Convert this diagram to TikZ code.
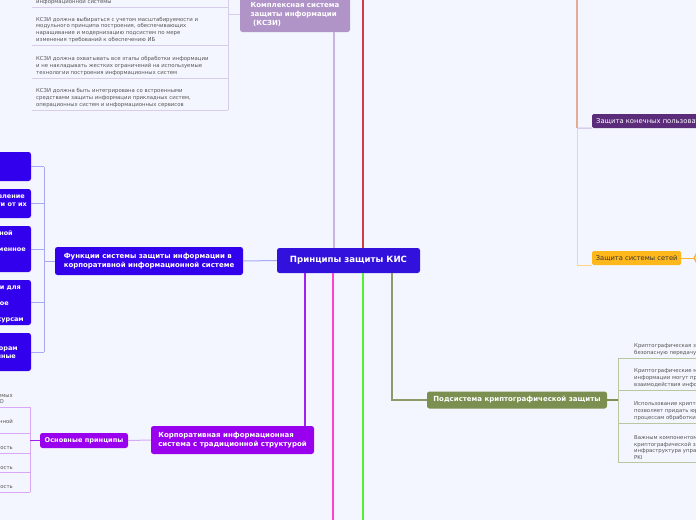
\documentclass[tikz,border=0pt]{standalone}
\usepackage{fontspec}
\setmainfont{DejaVu Sans}
\definecolor{bg}{HTML}{F3F6FE}
\definecolor{kisblue}{HTML}{3311DD}
\definecolor{funkblue}{HTML}{3300EE}
\definecolor{kszpurple}{HTML}{B094C8}
\definecolor{corpviolet}{HTML}{9900EE}
\definecolor{cryptgreen}{HTML}{7A8F50}
\definecolor{konpurple}{HTML}{5B2C7A}
\definecolor{netorange}{HTML}{FFB81C}
\definecolor{nettext}{HTML}{333333}
\definecolor{leaftext}{HTML}{555555}
\definecolor{lavline}{HTML}{A8A8F4}
\definecolor{kszline}{HTML}{C8B4DC}
\definecolor{kszbr}{HTML}{D8CCEA}
\definecolor{redline}{HTML}{D23A50}
\definecolor{corpline}{HTML}{A020F0}
\definecolor{osnline}{HTML}{D9A8F4}
\definecolor{magline}{HTML}{FF40D0}
\definecolor{greenline}{HTML}{55F030}
\definecolor{oliveline}{HTML}{8C9A6A}
\definecolor{cryptbr}{HTML}{B8C6A2}
\definecolor{salmline}{HTML}{E2AC98}
\definecolor{konline}{HTML}{C8B4E0}
\definecolor{netline}{HTML}{FFD58A}
\definecolor{fanline}{HTML}{FFB030}
\begin{document}
\begin{tikzpicture}[x=1pt, y=-1pt,
  topic/.style={rounded corners=2.5pt, inner sep=0pt, text=white, align=left,
    font=\fontsize{7}{9}\selectfont\bfseries},
  leaf/.style={inner xsep=4pt, inner ysep=2.5pt, anchor=south west, align=left,
    text=leaftext, font=\fontsize{5.35}{6.6}\selectfont},
  cut/.style={inner sep=0pt, anchor=base east, text=white,
    font=\fontsize{6.5}{8}\selectfont\bfseries},
  cutleaf/.style={inner sep=0pt, anchor=base east, text=leaftext,
    font=\fontsize{5.35}{6.6}\selectfont},
  conn/.style={line width=1.5pt},
  twig/.style={line width=1pt}]
\fill[bg] (0,0) rectangle (696,520);
\useasboundingbox (0,0) rectangle (696,520);
\clip (0,0) rectangle (696,520);

% main topics
\node[topic, fill=kisblue, minimum width=143, minimum height=25,
  font=\fontsize{8.6}{10}\selectfont\bfseries] (kis) at (348.5,260.5) {Принципы защиты КИС};
\node[topic, fill=funkblue, minimum width=188, minimum height=28] (funk) at (149,261)
  {Функции системы защиты информации в\\корпоративной информационной системе};
\node[topic, fill=kszpurple, minimum width=110, minimum height=36] (ksz) at (295,14)
  {Комплексная система\\защиты информации\\\hspace*{2.5pt}(КСЗИ)};
\node[topic, fill=corpviolet, minimum width=163, minimum height=28] (corp) at (232.5,440)
  {Корпоративная информационная\\система с традиционной структурой};
\node[topic, fill=corpviolet, minimum width=88, minimum height=15,
  font=\fontsize{6.6}{8}\selectfont\bfseries] (osn) at (84,440.5) {Основные принципы};
\node[topic, fill=cryptgreen, minimum width=180, minimum height=17] (crypt) at (517,400)
  {Подсистема криптографической защиты};
\node[topic, fill=konpurple, anchor=west, minimum height=14, inner xsep=4pt, rounded corners=1.5pt,
  font=\fontsize{6.8}{8}\selectfont] (kon) at (592,121) {Защита конечных пользователей};
\node[topic, fill=netorange, text=nettext, anchor=west, minimum width=89, minimum height=14,
  rounded corners=1.5pt, font=\fontsize{6.7}{8}\selectfont] (net) at (592,258) {Защита системы сетей};

% branches from the centre
\coordinate (redend) at (363,520);
\coordinate (redtop) at (363,0);
\coordinate (kszx) at (334,0);
\coordinate (corpx) at (305,0);
\coordinate (magend) at (333,520);
\coordinate (olvx) at (392,0);
\draw[twig, lavline] (kis.west) -- (funk.east);
\draw[conn, kszline] (kis.north -| kszx) -- (ksz.south -| kszx);
\draw[conn, redline] (kis.north -| redtop) -- (redtop);
\draw[conn, corpline] (kis.south -| corpx) -- (corp.north -| corpx);
\draw[conn, magline] (kis.south -| magend) -- (magend);
\draw[conn, greenline] (kis.south -| redend) -- (redend);
\draw[conn, oliveline] (kis.south -| olvx) |- (crypt.west);

% right side
\coordinate (salmtop) at (577,0);
\coordinate (knee) at (577,128);
\coordinate (fan) at (694,258);
\draw[conn, salmline] (salmtop) -- (knee);
\draw[twig, konline] (knee) -- (kon.south west);
\draw[twig, netline] (knee) |- (net.south west);
\draw[twig, fanline] (net.east) -- (fan);
\foreach \dy in {-16,-8,8,16}
  \draw[twig, fanline] (fan) -- ++(8,\dy);

% KSZI leaves
\node[leaf] (k1) at (32,7) {информационной системы};
\node[leaf] (k2) at (32,45) {КСЗИ должна выбираться с учетом масштабируемости и\\модульного принципа построения, обеспечивающих\\наращивание и модернизацию подсистем по мере\\изменения требований к обеспечению ИБ};
\node[leaf] (k3) at (32,78) {КСЗИ должна охватывать все этапы обработки информации\\и не накладывать жестких ограничений на используемые\\технологии построения информационных систем};
\node[leaf] (k4) at (32,110) {КСЗИ должна быть интегрирована со встроенными\\средствами защиты информации прикладных систем,\\операционных систем и информационных сервисов};
\coordinate (kbr) at (228,0);
\draw[twig, kszbr] (kbr) -- (kbr |- k4.south);
\draw[twig, kszbr] (ksz.west) -- (kbr |- ksz.west);
\foreach \i in {1,...,4}
  \draw[twig, kszbr] (k\i.south west) -- (kbr |- k\i.south);

% function boxes, cut by the left edge
\foreach \top/\bot [count=\i] in {152/181,189/218,226/272,280/325,333/371}
  \node[topic, fill=funkblue, minimum width=41, minimum height={\bot-\top}] (f\i) at (10.5,{(\top+\bot)/2}) {};
\foreach \xx/\yy/\txt [count=\i] in {25/198/вление, 27/206/ти от их, 13/235/ной, 26/251/менное,
    21/289/и для, 9/305/ое, 24/321/сурсам, 18/350/орам, 16/358/нные}
  \node[cut] (ft\i) at (\xx,\yy) {\txt};
\coordinate (fbr) at (44,0);
\draw[twig, lavline] (fbr |- f1.east) -- (fbr |- f5.east);
\draw[twig, lavline] (funk.west) -- (fbr |- funk.west);
\foreach \i in {1,...,5}
  \draw[twig, lavline] (f\i.east) -- (fbr |- f\i.east);

% basic principles
\draw[twig, osnline] (corp.west) -- (osn.east);
\coordinate (obr) at (30,0);
\foreach \y [count=\i] in {407,433,453,472,492}
  \coordinate (o\i) at (0,\y);
\draw[twig, osnline] (obr |- o1) -- (obr |- o5);
\foreach \i in {1,...,5}
  \draw[twig, osnline] (o\i) -- (obr |- o\i);
\draw[twig, corpline] (osn.west) -- (obr |- osn.west);
\foreach \xx/\yy/\txt [count=\i] in {13/397/емых, 4/403/О, 13/423/нной, 13/449/ность, 13/469/ность, 13/488/ность}
  \node[cutleaf] (ot\i) at (\xx,\yy) {\txt};

% crypto leaves, cut by the right edge
\node[leaf] (c1) at (630,358) {Криптографическая защита\\безопасную передачу};
\node[leaf] (c2) at (630,390) {Криптографические методы\\информации могут применяться\\взаимодействия информационных};
\node[leaf] (c3) at (630,423) {Использование криптографии\\позволяет придать юридическую\\процессам обработки};
\node[leaf] (c4) at (630,462) {Важным компонентом\\криптографической защиты\\инфраструктура управления\\PKI};
\coordinate (cbr) at (618,0);
\draw[twig, cryptbr] (cbr |- c1.south) -- (cbr |- c4.south);
\draw[conn, cryptgreen] (crypt.east) -- (cbr |- crypt.east);
\foreach \i in {1,...,4}
  \draw[twig, cryptbr] (cbr |- c\i.south) -- ++(80,0);
\end{tikzpicture}
\end{document}
